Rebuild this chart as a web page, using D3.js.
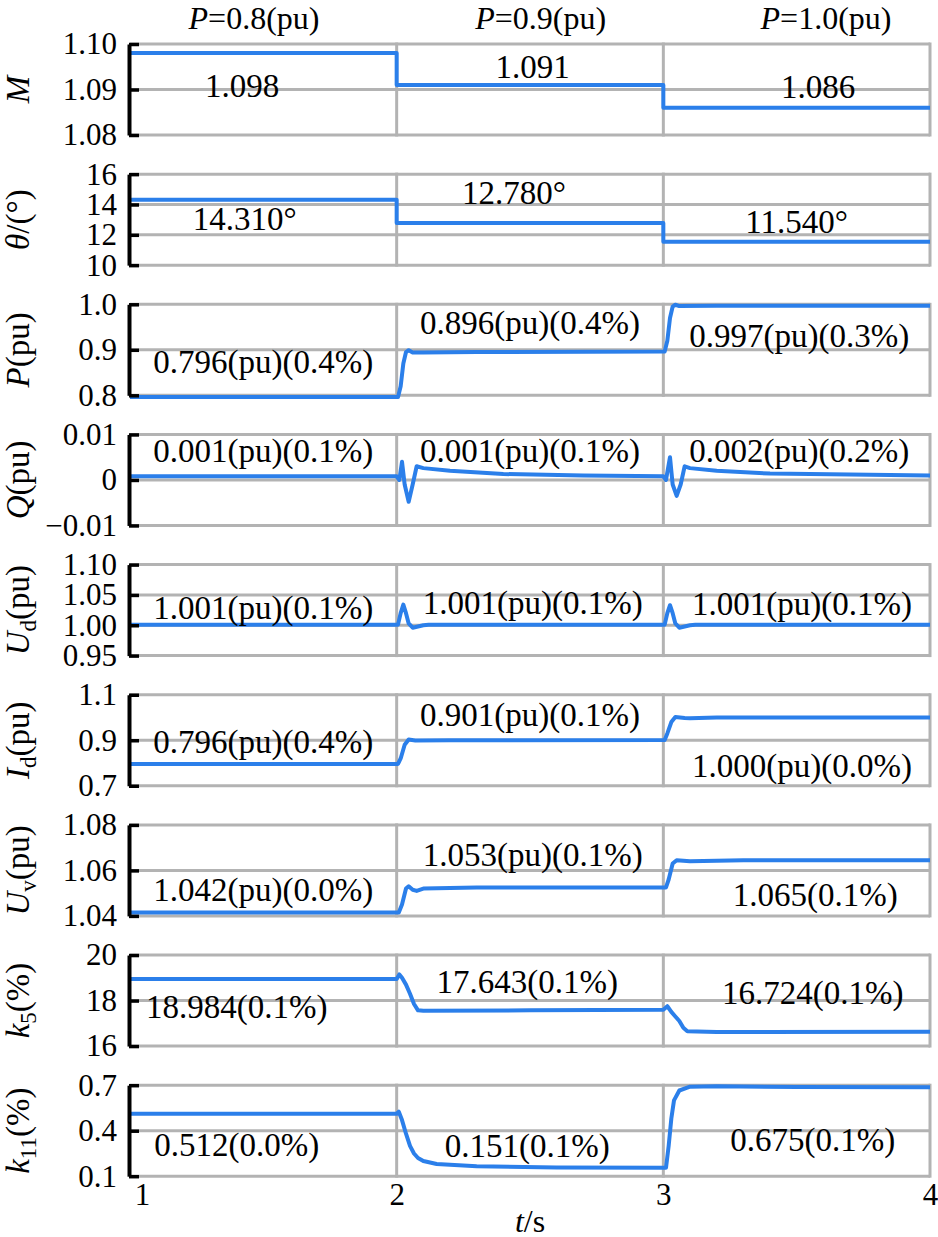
<!DOCTYPE html>
<html>
<head>
<meta charset="utf-8">
<script src="https://cdn.jsdelivr.net/npm/d3@7"></script>
<style>
  body { margin: 0; background: #fff; }
  svg text { font-family: "Liberation Serif", "Times New Roman", serif; fill: #000; }
</style>
</head>
<body>
<svg width="938" height="1237"></svg>
<script>
// columns (operating points)
const powerLevels = ['0.8', '0.9', '1.0'];
const timeTicks = [1, 2, 3, 4];

// series: [t (s), value]
const mSeries = [[1, 1.098], [2, 1.098], [2, 1.091], [3, 1.091], [3, 1.086], [4, 1.086]];
const thetaSeries = [[1, 14.31], [2, 14.31], [2, 12.78], [3, 12.78], [3, 11.54], [4, 11.54]];
const pSeries = [[1, 0.796], [2.005, 0.796], [2.015, 0.82], [2.025, 0.87], [2.035, 0.895], [2.045, 0.899],
  [2.06, 0.894], [2.1, 0.894], [2.3, 0.895], [3.005, 0.896], [3.015, 0.92], [3.025, 0.97],
  [3.035, 0.995], [3.045, 0.999], [3.06, 0.996], [3.2, 0.997], [4, 0.997]];
const qSeries = [[1, 0.0008], [2.0, 0.0008], [2.01, 0.0], [2.02, 0.004], [2.03, -0.001], [2.045, -0.0048],
  [2.06, -0.001], [2.075, 0.003], [2.1, 0.0026], [2.2, 0.002], [2.4, 0.0013], [2.7, 0.001], [3.0, 0.0008],
  [3.01, 0.0], [3.025, 0.005], [3.035, -0.001], [3.05, -0.0035], [3.065, -0.001], [3.08, 0.003],
  [3.1, 0.0026], [3.2, 0.002], [3.4, 0.0014], [4, 0.001]];
const udSeries = [[1, 1.001], [2.005, 1.001], [2.015, 1.02], [2.025, 1.034], [2.035, 1.02], [2.045, 1.003],
  [2.06, 0.996], [2.08, 0.998], [2.1, 1.0], [2.12, 1.001], [3.005, 1.001], [3.015, 1.02], [3.025, 1.033],
  [3.035, 1.02], [3.045, 1.003], [3.06, 0.996], [3.08, 0.998], [3.1, 1.0], [3.12, 1.001], [4, 1.001]];
const idSeries = [[1, 0.796], [2.005, 0.796], [2.015, 0.82], [2.03, 0.88], [2.045, 0.903], [2.07, 0.899],
  [2.2, 0.9], [3.005, 0.901], [3.015, 0.93], [3.03, 0.98], [3.045, 1.002], [3.08, 0.998], [3.1, 0.997],
  [3.2, 1.0], [4, 1.0]];
const uvSeries = [[1, 1.0415], [2.008, 1.0415], [2.02, 1.045], [2.035, 1.052], [2.045, 1.053],
  [2.06, 1.0515], [2.075, 1.051], [2.1, 1.052], [2.3, 1.0525], [3.01, 1.0525], [3.02, 1.056],
  [3.035, 1.063], [3.05, 1.0645], [3.1, 1.064], [3.3, 1.0645], [4, 1.0645]];
const k5Series = [[1, 18.95], [2.0, 18.95], [2.01, 19.15], [2.02, 19.0], [2.035, 18.7], [2.05, 18.3],
  [2.065, 17.85], [2.08, 17.57], [2.1, 17.55], [2.5, 17.57], [3.0, 17.6], [3.015, 17.75], [3.03, 17.5],
  [3.045, 17.3], [3.06, 17.1], [3.075, 16.8], [3.09, 16.65], [3.2, 16.62], [4, 16.63]];
const k11Series = [[1, 0.512], [2.0, 0.512], [2.008, 0.525], [2.02, 0.47], [2.035, 0.38], [2.05, 0.3],
  [2.065, 0.25], [2.08, 0.22], [2.1, 0.2], [2.15, 0.18], [2.3, 0.165], [2.6, 0.158], [3.01, 0.155],
  [3.02, 0.3], [3.03, 0.48], [3.04, 0.6], [3.06, 0.665], [3.1, 0.69], [3.2, 0.693], [3.5, 0.688], [4, 0.687]];

// y ticks and their labels
const mTicks = [1.08, 1.09, 1.10];        const mTickLabels = ['1.08', '1.09', '1.10'];
const thetaTicks = [10, 12, 14, 16];      const thetaTickLabels = ['10', '12', '14', '16'];
const pTicks = [0.8, 0.9, 1.0];           const pTickLabels = ['0.8', '0.9', '1.0'];
const qTicks = [-0.01, 0, 0.01];          const qTickLabels = ['\u22120.01', '0', '0.01'];
const udTicks = [0.95, 1.0, 1.05, 1.10];  const udTickLabels = ['0.95', '1.00', '1.05', '1.10'];
const idTicks = [0.7, 0.9, 1.1];          const idTickLabels = ['0.7', '0.9', '1.1'];
const uvTicks = [1.04, 1.06, 1.08];       const uvTickLabels = ['1.04', '1.06', '1.08'];
const k5Ticks = [16, 18, 20];             const k5TickLabels = ['16', '18', '20'];
const k11Ticks = [0.1, 0.4, 0.7];         const k11TickLabels = ['0.1', '0.4', '0.7'];

// steady-state annotations, one per column
const mNotes = ['1.098', '1.091', '1.086'];
const thetaNotes = ['14.310\u00b0', '12.780\u00b0', '11.540\u00b0'];
const pNotes = ['0.796(pu)(0.4%)', '0.896(pu)(0.4%)', '0.997(pu)(0.3%)'];
const qNotes = ['0.001(pu)(0.1%)', '0.001(pu)(0.1%)', '0.002(pu)(0.2%)'];
const udNotes = ['1.001(pu)(0.1%)', '1.001(pu)(0.1%)', '1.001(pu)(0.1%)'];
const idNotes = ['0.796(pu)(0.4%)', '0.901(pu)(0.1%)', '1.000(pu)(0.0%)'];
const uvNotes = ['1.042(pu)(0.0%)', '1.053(pu)(0.1%)', '1.065(0.1%)'];
const k5Notes = ['18.984(0.1%)', '17.643(0.1%)', '16.724(0.1%)'];
const k11Notes = ['0.512(0.0%)', '0.151(0.1%)', '0.675(0.1%)'];

// y-axis titles: [text, italic, subscript]
const mLabel = [['M', true, false]];
const thetaLabel = [['\u03b8', true, false], ['/(\u00b0)', false, false]];
const pLabel = [['P', true, false], ['(pu)', false, false]];
const qLabel = [['Q', true, false], ['(pu)', false, false]];
const udLabel = [['U', true, false], ['d', false, true], ['(pu)', false, false]];
const idLabel = [['I', true, false], ['d', false, true], ['(pu)', false, false]];
const uvLabel = [['U', true, false], ['v', false, true], ['(pu)', false, false]];
const k5Label = [['k', true, false], ['5', false, true], ['(%)', false, false]];
const k11Label = [['k', true, false], ['11', false, true], ['(%)', false, false]];

const panels = [
  { series: mSeries, ticks: mTicks, tickLabels: mTickLabels, notes: mNotes, label: mLabel },
  { series: thetaSeries, ticks: thetaTicks, tickLabels: thetaTickLabels, notes: thetaNotes, label: thetaLabel },
  { series: pSeries, ticks: pTicks, tickLabels: pTickLabels, notes: pNotes, label: pLabel },
  { series: qSeries, ticks: qTicks, tickLabels: qTickLabels, notes: qNotes, label: qLabel },
  { series: udSeries, ticks: udTicks, tickLabels: udTickLabels, notes: udNotes, label: udLabel },
  { series: idSeries, ticks: idTicks, tickLabels: idTickLabels, notes: idNotes, label: idLabel },
  { series: uvSeries, ticks: uvTicks, tickLabels: uvTickLabels, notes: uvNotes, label: uvLabel },
  { series: k5Series, ticks: k5Ticks, tickLabels: k5TickLabels, notes: k5Notes, label: k5Label },
  { series: k11Series, ticks: k11Ticks, tickLabels: k11TickLabels, notes: k11Notes, label: k11Label }
];

// where the annotations sit: t position of centre, pixels below panel top
const notePlace = [
  [[1.42, 42], [2.51, 23], [3.58, 43]],
  [[1.43, 45], [2.44, 19], [3.50, 48]],
  [[1.50, 57], [2.50, 18], [3.51, 31]],
  [[1.50, 16], [2.50, 16], [3.51, 16]],
  [[1.50, 43], [2.51, 38], [3.52, 39]],
  [[1.50, 47], [2.50, 20], [3.52, 71]],
  [[1.50, 65], [2.51, 30], [3.57, 70]],
  [[1.40, 52], [2.49, 27], [3.56, 38]],
  [[1.40, 60], [2.49, 61], [3.56, 55]]
];

const blue = '#2b7fea';
const gridGray = '#b3b3b3';
const panelTop = 44, panelStep = 130.15, panelH = 91;

const svg = d3.select('svg');
const x = d3.scaleLinear().domain([1, 4]).range([130, 930]);

panels.forEach((p, i) => {
  const top = panelTop + i * panelStep;
  const y = d3.scaleLinear().domain(d3.extent(p.ticks)).range([top + panelH, top]);
  const g = svg.append('g');

  // grid
  g.selectAll('line.h').data(p.ticks).join('line')
    .attr('x1', x(1)).attr('x2', x(4))
    .attr('y1', d => y(d)).attr('y2', d => y(d))
    .attr('stroke', gridGray).attr('stroke-width', 3);
  g.selectAll('line.v').data([2, 3, 4]).join('line')
    .attr('x1', d => x(d)).attr('x2', d => x(d))
    .attr('y1', top - 1.5).attr('y2', top + panelH + 1.5)
    .attr('stroke', gridGray).attr('stroke-width', 3);

  // trace
  const line = d3.line().x(d => x(d[0])).y(d => y(d[1]));
  g.append('path').datum(p.series)
    .attr('d', line)
    .attr('fill', 'none')
    .attr('stroke', blue)
    .attr('stroke-width', 4)
    .attr('stroke-linejoin', 'round');

  // left axis, ticks pointing inwards
  const axis = d3.axisLeft(y)
    .tickValues(p.ticks)
    .tickFormat((d, k) => p.tickLabels[k])
    .tickSize(-10).tickSizeOuter(0).tickPadding(12);
  const ax = g.append('g').attr('transform', `translate(${x(1) - 1},0)`).call(axis);
  ax.select('.domain').attr('stroke', '#000').attr('stroke-width', 4);
  ax.selectAll('.tick line').attr('stroke', '#000').attr('stroke-width', 3.5);
  ax.selectAll('.tick text')
    .attr('font-size', 31)
    .attr('font-family', '"Liberation Serif", "Times New Roman", serif')
    .attr('fill', '#000');

  // y title
  const title = g.append('text')
    .attr('transform', `translate(29,${top + panelH / 2}) rotate(-90)`)
    .attr('text-anchor', 'middle')
    .attr('font-size', 33);
  p.label.forEach(([txt, it, sub], k) => {
    const ts = title.append('tspan').text(txt);
    if (it) ts.attr('font-style', 'italic');
    if (sub) ts.attr('font-size', 23).attr('dy', 7);
    else if (k > 0 && p.label[k - 1][2]) ts.attr('dy', -7);
  });

  // annotations
  p.notes.forEach((n, k) => {
    g.append('text')
      .attr('x', x(notePlace[i][k][0]))
      .attr('y', top + notePlace[i][k][1])
      .attr('dy', '0.34em')
      .attr('text-anchor', 'middle')
      .attr('font-size', 33)
      .text(n);
  });

  // bottom time axis on the last panel
  if (i === panels.length - 1) {
    const xa = g.append('g')
      .attr('transform', `translate(0,${top + panelH})`)
      .call(d3.axisBottom(x).tickValues(timeTicks).tickFormat(d3.format('d')).tickSize(0).tickPadding(7));
    xa.select('.domain').remove();
    xa.selectAll('.tick text')
      .attr('font-size', 31)
      .attr('font-family', '"Liberation Serif", "Times New Roman", serif')
      .attr('fill', '#000')
      .attr('dx', (d, k) => (k === 0 ? 12 : 0));
  }
});

// column headers
const headerPos = [1.465, 2.54, 3.61];
powerLevels.forEach((v, k) => {
  const t = svg.append('text')
    .attr('x', x(headerPos[k])).attr('y', 29)
    .attr('text-anchor', 'middle')
    .attr('font-size', 32);
  t.append('tspan').attr('font-style', 'italic').text('P');
  t.append('tspan').text(`=${v}(pu)`);
});

// x title
const xt = svg.append('text')
  .attr('x', x(2.5)).attr('y', 1232)
  .attr('text-anchor', 'middle')
  .attr('font-size', 32);
xt.append('tspan').attr('font-style', 'italic').text('t');
xt.append('tspan').text('/s');
</script>
</body>
</html>
